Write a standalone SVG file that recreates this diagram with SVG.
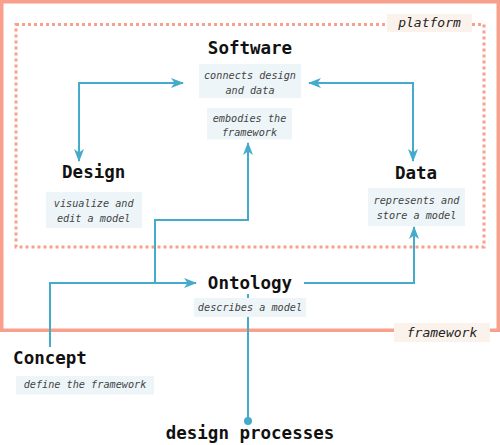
<svg xmlns="http://www.w3.org/2000/svg" width="500" height="445" viewBox="0 0 500 445">
<defs>
<marker id="arr" markerUnits="userSpaceOnUse" markerWidth="13" markerHeight="11" refX="12" refY="5" orient="auto-start-reverse">
<path d="M0,0 L13,5 L0,10 L3.5,5 z" fill="#45abcb"/>
</marker>
<style>
.frame{fill:none;stroke:#f9a08c;stroke-width:3.5}
.plat{fill:none;stroke:#f9a08c;stroke-width:3;stroke-dasharray:3 3}
.tag{fill:#fcf2ec}
.tagt{font-family:"DejaVu Sans Mono",monospace;font-style:italic;font-size:13px;fill:#222;text-anchor:middle}
.title{font-family:"DejaVu Sans Mono",monospace;font-weight:bold;font-size:17.5px;fill:#111;text-anchor:middle}
.box{fill:#edf5f8}
.desc{font-family:"DejaVu Sans Mono",monospace;font-style:italic;font-size:10.2px;fill:#444;text-anchor:middle}
.conn{fill:none;stroke:#45abcb;stroke-width:2}
</style>
</defs>
<rect width="500" height="445" fill="#fff"/>
<g id="framework">
<rect class="frame" x="1.75" y="1.75" width="496.5" height="328.5"/>
<rect class="tag" x="394" y="323" width="96" height="19"/>
<text class="tagt" x="442" y="337">framework</text>
</g>
<g id="platform">
<rect class="plat" x="16" y="24.5" width="468" height="222.5"/>
<rect class="tag" x="387" y="14" width="85" height="18"/>
<text class="tagt" x="429.5" y="27">platform</text>
</g>
<g id="connectors">
<polyline class="conn" points="79,161 79,83 183,83" marker-start="url(#arr)" marker-end="url(#arr)"/>
<polyline class="conn" points="413,161 413,83 309,83" marker-start="url(#arr)" marker-end="url(#arr)"/>
<polyline class="conn" points="50,347 50,283 196,283" marker-end="url(#arr)"/>
<polyline class="conn" points="155,283 155,220 248,220 248,143" marker-end="url(#arr)"/>
<polyline class="conn" points="304,283 414,283 414,227" marker-end="url(#arr)"/>
<line class="conn" x1="248" y1="294" x2="248" y2="421"/>
<circle cx="248" cy="421" r="4" fill="#45abcb"/>
</g>
<g id="software">
<text class="title" x="250" y="54">Software</text>
<rect class="box" x="199" y="64" width="102" height="34"/>
<text class="desc" x="250" y="78.5">connects design</text>
<text class="desc" x="250" y="93.5">and data</text>
<rect class="box" x="207" y="108" width="85" height="31.5"/>
<text class="desc" x="249.5" y="121.5">embodies the</text>
<text class="desc" x="249.5" y="136">framework</text>
</g>
<g id="design">
<text class="title" x="93.7" y="178">Design</text>
<rect class="box" x="46" y="192" width="96" height="36"/>
<text class="desc" x="93.7" y="206.5">visualize and</text>
<text class="desc" x="93.7" y="221.5">edit a model</text>
</g>
<g id="data">
<text class="title" x="416" y="178.5">Data</text>
<rect class="box" x="368" y="188" width="97" height="38"/>
<text class="desc" x="416.5" y="204">represents and</text>
<text class="desc" x="416.5" y="219">store a model</text>
</g>
<g id="ontology">
<text class="title" x="250" y="288.5">Ontology</text>
<rect class="box" x="194" y="298" width="112" height="19"/>
<text class="desc" x="250" y="310.5">describes a model</text>
</g>
<g id="concept">
<text class="title" x="50" y="364">Concept</text>
<rect class="box" x="16" y="376" width="138" height="18.5"/>
<text class="desc" x="85" y="388">define the framework</text>
</g>
<g id="processes">
<text class="title" x="250" y="439">design processes</text>
</g>
</svg>
